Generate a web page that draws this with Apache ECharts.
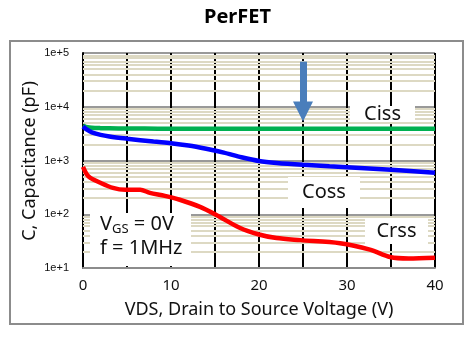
<!DOCTYPE html>
<html>
<head>
<meta charset="utf-8">
<script src="https://cdn.jsdelivr.net/npm/echarts@6/dist/echarts.min.js"></script>
<style>
    html, body { margin: 0; padding: 0; background: #fff; }
    #chart { width: 475px; height: 351px; }
</style>
</head>
<body>
<div id="chart"></div>
<script>
// capacitance vs drain-source voltage, values in pF
var cissV = [0, 0.5, 1, 2, 4, 7, 10, 15, 20, 25, 30, 35, 40];
var cissC = [4500, 4150, 4050, 4000, 3950, 3920, 3900, 3900, 3900, 3900, 3900, 3900, 3900];

var cossV = [0, 0.5, 1, 2, 3, 5, 8, 10, 12, 14, 16, 18, 20, 22, 25, 28, 30, 35, 40];
var cossC = [4300, 3700, 3350, 3000, 2800, 2550, 2250, 2100, 1900, 1650, 1400, 1150, 980, 900, 830, 780, 750, 670, 590];

var crssV = [0, 0.4, 0.8, 1.9, 3.4, 4.8, 6.5, 7.6, 9.3, 11, 13.3, 15.1, 17.8, 20, 22, 24.7, 29.2, 32.6, 34.9, 37, 40];
var crssC = [760, 560, 480, 390, 310, 285, 285, 250, 220, 186, 137, 98, 56, 42, 36, 33, 29, 22, 16, 15, 15.5];

var decades = [10, 100, 1000, 10000, 100000];
var arrowV = 25;
var arrowFrom = 69000, arrowTo = 8150;

function pairs(xs, ys) {
    var out = [];
    for (var i = 0; i < xs.length; i++) out.push([xs[i], ys[i]]);
    return out;
}

// beige minor lines at 2..9 of every decade
var minorLines = [];
for (var d = 0; d < decades.length - 1; d++) {
    for (var k = 2; k <= 9; k++) minorLines.push({ yAxis: decades[d] * k });
}

var font = '"Noto Sans", "Open Sans", sans-serif';
var myChart = echarts.init(document.getElementById('chart'));

function boxLabel(x, y, w, h, txt) {
    return {
        type: 'group', left: x, top: y,
        children: [
            { type: 'rect', z: 100, shape: { x: 0, y: 0, width: w, height: h }, style: { fill: '#fff' } },
            { type: 'text', z: 101, style: { x: w / 2, y: h / 2, text: txt, align: 'center', verticalAlign: 'middle',
                fontSize: 20, fontFamily: font, fill: '#111' } }
        ]
    };
}

var option = {
    animation: false,
    title: {
        text: 'PerFET', left: 'center', top: 2,
        textStyle: { fontSize: 20, fontWeight: 'bold', fontFamily: font, color: '#000' }
    },
    grid: { left: 83, right: 40, top: 53, bottom: 83 },
    xAxis: {
        type: 'value', min: 0, max: 40, interval: 5, z: 1,
        name: 'VDS, Drain to Source Voltage (V)', nameLocation: 'middle', nameGap: 33,
        nameTextStyle: { fontSize: 18, fontFamily: font, color: '#111' },
        axisLine: { show: true, lineStyle: { color: '#8c8c8c', width: 2 } },
        axisTick: { show: false },
        axisLabel: {
            margin: 10, fontSize: 15, fontFamily: font, color: '#111',
            formatter: function (v) { return v % 10 === 0 ? String(v) : ''; }
        },
        splitLine: { show: true, lineStyle: { color: '#000', width: 2 } }
    },
    yAxis: {
        type: 'log', logBase: 10, min: 10, max: 100000, z: 1,
        axisLine: { show: true, lineStyle: { color: '#000', width: 2 } },
        axisTick: { show: false },
        axisLabel: {
            margin: 14, fontSize: 11, fontFamily: '"Liberation Sans", Arial, sans-serif', color: '#111',
            formatter: function (v) { return '1e+' + Math.round(Math.log10(v)); }
        },
        splitLine: { show: true, lineStyle: { color: '#999', width: 2 } }
    },
    series: [
        {
            type: 'line', data: [], z: 0, silent: true,
            markLine: {
                silent: true, symbol: 'none', label: { show: false },
                lineStyle: { color: '#ddd9c3', width: 2, type: 'solid' },
                data: minorLines
            }
        },
        {
            name: 'Ciss', type: 'line', data: pairs(cissV, cissC), smooth: 0.3, showSymbol: false, z: 5,
            lineStyle: { color: '#00b050', width: 4.5 }
        },
        {
            name: 'Coss', type: 'line', data: pairs(cossV, cossC), smooth: 0.3, showSymbol: false, z: 5,
            lineStyle: { color: '#0000ff', width: 4.5 }
        },
        {
            name: 'Crss', type: 'line', data: pairs(crssV, crssC), smooth: 0.3, showSymbol: false, z: 5,
            lineStyle: { color: '#ff0000', width: 4.5 }
        },
        {
            type: 'line', data: [], z: 6, silent: true,
            markLine: {
                silent: true, symbol: ['none', 'triangle'], symbolSize: [20, 20], label: { show: false },
                lineStyle: { color: '#4a7ebb', width: 7, type: 'solid' },
                itemStyle: { color: '#4a7ebb' },
                data: [[{ coord: [arrowV, arrowFrom] }, { coord: [arrowV, arrowTo] }]]
            }
        }
    ],
    graphic: [
        { type: 'rect', z: 40, shape: { x: 10, y: 41, width: 453, height: 283 },
          style: { fill: 'none', stroke: '#8c8c8c', lineWidth: 2 } },
        // y axis title, centred on the plot height
        { type: 'text', z: 40, x: 30, y: 161, rotation: Math.PI / 2,
          style: { text: 'C, Capacitance (pF)', align: 'center', verticalAlign: 'middle',
                   fontSize: 18, fontFamily: font, fill: '#111' } },
        boxLabel(350, 104, 65, 16, 'Ciss'),
        boxLabel(288, 177, 72, 31, 'Coss'),
        boxLabel(365, 218, 63, 26, 'Crss'),
        {
            type: 'group', left: 90, top: 213,
            children: [
                { type: 'rect', z: 100, shape: { x: 0, y: 0, width: 101, height: 53 }, style: { fill: '#fff' } },
                { type: 'text', z: 101, style: {
                    x: 10, y: 11, verticalAlign: 'middle',
                    text: '{n|V}{s|GS}{n| = 0V}',
                    rich: {
                        n: { fontSize: 20, fontFamily: font, fill: '#111' },
                        s: { fontSize: 13, fontFamily: font, fill: '#111', padding: [10, 0, 0, 0] }
                    }
                } },
                { type: 'text', z: 101, style: {
                    x: 10, y: 35, verticalAlign: 'middle', text: 'f = 1MHz',
                    fontSize: 20, fontFamily: font, fill: '#111'
                } }
            ]
        }
    ]
};
myChart.setOption(option);
</script>
</body>
</html>
